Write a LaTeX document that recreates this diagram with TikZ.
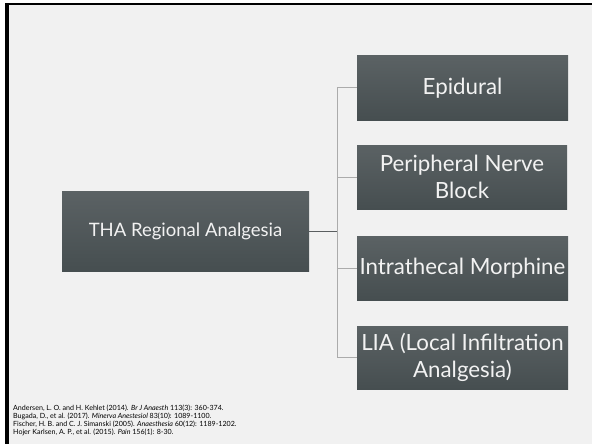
\documentclass[tikz,border=0pt]{standalone}
\usepackage{fontspec}
\setmainfont{Lato}
\definecolor{slidebg}{HTML}{F1F1F1}
\definecolor{boxtop}{HTML}{5B6264}
\definecolor{boxbot}{HTML}{464E50}
\definecolor{boxtext}{HTML}{F2F2F2}
\definecolor{trunk}{HTML}{5A5E60}
\definecolor{branch}{HTML}{ABABAB}
\tikzset{
  smartbox/.style={rectangle, inner sep=0pt, shading=axis, top color=boxtop, bottom color=boxbot,
    text=boxtext, align=center, font=\fontsize{22.3}{27}\selectfont},
  rootbox/.style={smartbox, font=\fontsize{18.5}{23}\selectfont},
  trunkline/.style={draw=trunk, line width=1pt},
  branchline/.style={draw=branch, line width=1pt},
  reftext/.style={anchor=north west, inner sep=0pt, align=left, font=\fontsize{7.1}{8}\selectfont, text=black}
}
\begin{document}
\begin{tikzpicture}[x=1pt,y=-1pt]
\useasboundingbox (0,0) rectangle (592,444);
\fill[white] (0,0) rectangle (592,444);
\fill[black] (5,3) rectangle (592,444);
\fill[slidebg] (9,5.5) rectangle (592,444);

\node[rootbox, minimum width=247pt, minimum height=80pt] (root) at (185.5,231) {THA Regional Analgesia};
\node[smartbox, minimum width=211pt, minimum height=64pt] (epi) at (462.5,88) {Epidural};
\node[smartbox, minimum width=210pt, minimum height=64pt] (pnb) at (462,177) {Peripheral Nerve\\Block};
\node[smartbox, minimum width=211pt, minimum height=64pt] (itm) at (462.5,268) {Intrathecal Morphine};
\node[smartbox, minimum width=211pt, minimum height=63pt] (lia) at (462.5,357.5) {LIA (Local Infiltration\\Analgesia)};

\coordinate (jn) at (337,231);
\draw[branchline] (jn) |- (epi.west);
\draw[branchline] (jn) |- (pnb.west);
\draw[branchline] (jn) |- (itm.west);
\draw[branchline] (jn) |- (lia.west);
\draw[trunkline] (root.east) -- (jn);

\node[reftext] (refs) at (13,404.5) {Andersen, L. O. and H. Kehlet (2014). \textit{Br J Anaesth} 113(3): 360-374.\\
Bugada, D., et al. (2017). \textit{Minerva Anestesiol} 83(10): 1089-1100.\\
Fischer, H. B. and C. J. Simanski (2005). \textit{Anaesthesia} 60(12): 1189-1202.\\
Hojer Karlsen, A. P., et al. (2015). \textit{Pain} 156(1): 8-30.};
\end{tikzpicture}
\end{document}
